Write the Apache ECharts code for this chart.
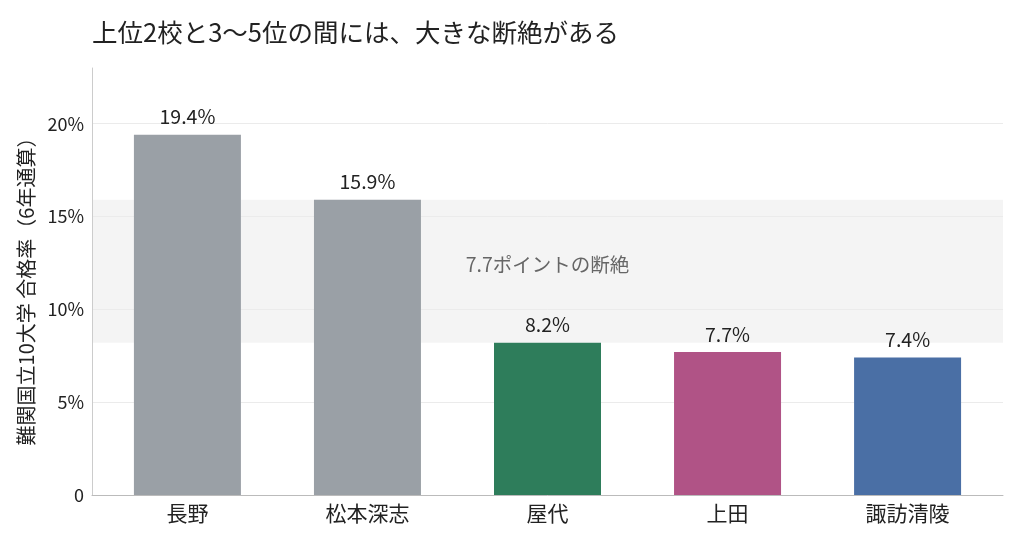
<!DOCTYPE html>
<html>
<head>
<meta charset="utf-8">
<script src="https://cdn.jsdelivr.net/npm/echarts@6/dist/echarts.min.js"></script>
<style>
  html, body { margin: 0; padding: 0; background: #fff; }
  #chart { width: 1024px; height: 546px; }
</style>
</head>
<body>
<div id="chart"></div>
<script>
// 難関国立10大学 合格率（6年通算）
var schools = ['長野', '松本深志', '屋代', '上田', '諏訪清陵'];
var passRates = [19.4, 15.9, 8.2, 7.7, 7.4];
var barColors = ['#9aa0a6', '#9aa0a6', '#2e7d5b', '#b05386', '#4a6fa5'];
var yTicks = [0, 5, 10, 15, 20];
var gapLow = 8.2, gapHigh = 15.9;
var gapText = '7.7ポイントの断絶';

var font = '"Noto Sans CJK JP", "Noto Sans", sans-serif';
var positions = schools.map(function (s, i) { return i; });

var chart = echarts.init(document.getElementById('chart'));
chart.setOption({
  textStyle: { fontFamily: font },
  title: {
    text: '上位2校と3〜5位の間には、大きな断絶がある',
    left: 87, top: 15,
    textStyle: { fontFamily: font, fontSize: 25.5, fontWeight: 'normal', color: '#222' }
  },
  grid: { left: 92, right: 21, top: 68, bottom: 51 },
  xAxis: {
    type: 'value',
    min: -0.53, max: 4.53,
    splitLine: { show: false },
    axisLine: { show: true, onZero: false, lineStyle: { color: '#bbb' } },
    axisTick: { show: false },
    axisLabel: {
      customValues: positions,
      fontFamily: font, fontSize: 21, color: '#222', margin: 8,
      formatter: function (v) { return schools[Math.round(v)] || ''; }
    }
  },
  yAxis: {
    type: 'value',
    min: 0, max: 23, interval: 5,
    name: '難関国立10大学 合格率（6年通算）',
    nameLocation: 'middle',
    nameGap: 52,
    nameTextStyle: { fontFamily: font, fontSize: 20, color: '#222', padding: [0, 10, 0, 0] },
    axisLine: { show: true, onZero: false, lineStyle: { color: '#ccc' } },
    axisTick: { show: false },
    splitLine: { showMaxLine: false, lineStyle: { color: '#ebebeb' } },
    axisLabel: {
      fontFamily: font, fontSize: 18, color: '#222',
      formatter: function (v) {
        return yTicks.indexOf(v) < 0 ? '' : (v === 0 ? '0' : v + '%');
      }
    }
  },
  series: [{
    type: 'bar',
    barWidth: 107,
    data: passRates.map(function (v, i) {
      return { value: [positions[i], v], itemStyle: { color: barColors[i] } };
    }),
    label: {
      show: true, position: 'top', distance: 8,
      fontFamily: font, fontSize: 19.5, color: '#222',
      formatter: function (p) { return p.value[1].toFixed(1) + '%'; }
    },
    markArea: {
      silent: true,
      z: -1,
      itemStyle: { color: 'rgba(0,0,0,0.045)' },
      label: {
        show: true, position: 'inside', offset: [0, -7],
        fontFamily: font, fontSize: 19.5, color: '#666'
      },
      data: [[{ yAxis: gapHigh, name: gapText }, { yAxis: gapLow }]]
    }
  }]
});
</script>
</body>
</html>
